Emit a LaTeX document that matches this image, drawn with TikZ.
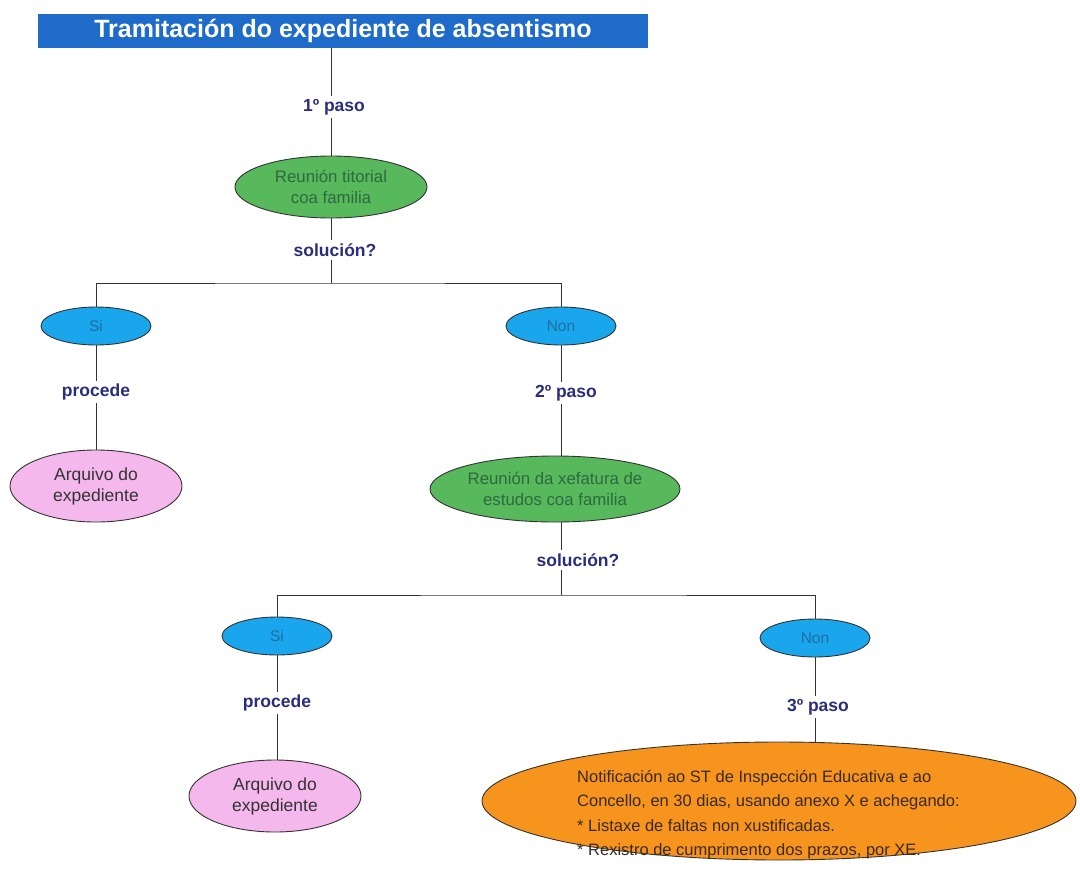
\documentclass[tikz,border=0pt]{standalone}
\usepackage{fontspec}
\setmainfont{Liberation Sans}
\usetikzlibrary{shapes.geometric}
\definecolor{titleblue}{HTML}{1F6BC9}
\definecolor{labelnavy}{HTML}{2A2D7C}
\definecolor{ellgreen}{HTML}{58B85C}
\definecolor{greentext}{HTML}{2D6A40}
\definecolor{ellcyan}{HTML}{1AA6EC}
\definecolor{cyantext}{HTML}{1E6FA3}
\definecolor{ellpink}{HTML}{F5B8EC}
\definecolor{pinktext}{HTML}{333333}
\definecolor{ellorange}{HTML}{F7941D}
\definecolor{orangetext}{HTML}{3A2A1F}
\definecolor{edgegray}{HTML}{333333}
\begin{document}
\begin{tikzpicture}[x=1pt,y=-1pt,
  conn/.style={draw=edgegray, line width=1pt},
  lbl/.style={font=\bfseries\fontsize{17.5}{20}\selectfont, text=labelnavy, inner sep=3pt},
  ell/.style={ellipse, draw=edgegray, line width=0.9pt, inner sep=0pt, align=center},
  greenell/.style={ell, fill=ellgreen, text=greentext, font=\fontsize{16.8}{21}\selectfont},
  cyanell/.style={ell, fill=ellcyan, text=cyantext, font=\fontsize{15.5}{18}\selectfont, minimum width=110, minimum height=38},
  pinkell/.style={ell, fill=ellpink, text=pinktext, font=\fontsize{17.5}{21}\selectfont, minimum width=172, minimum height=72},
  orangeell/.style={ell, fill=ellorange, minimum width=594, minimum height=118},
  otext/.style={font=\fontsize{16.5}{24.5}\selectfont, text=orangetext, align=left, inner sep=0pt}
]
\useasboundingbox (0,0) rectangle (1080,871);

\node[fill=titleblue, minimum width=610, minimum height=34, inner sep=0pt,
      text=white, font=\bfseries\fontsize{25}{28}\selectfont] (title) at (343,31) {Tramitación do expediente de absentismo};

\node[lbl] (l1) at (334,107) {1º paso};
\node[greenell, minimum width=192, minimum height=62] (g1) at (331,187) {Reunión titorial\\coa familia};
\node[lbl] (sol1) at (335,250) {solución?};
\coordinate (b1) at (331,283);

\node[cyanell] (si1) at (96,326) {Si};
\node[cyanell] (non1) at (561,326) {Non};

\node[lbl] (proc1) at (96,392) {procede};
\node[pinkell] (a1) at (96,486) {Arquivo do\\expediente};

\node[lbl] (l2) at (566,393) {2º paso};
\node[greenell, minimum width=250, minimum height=66] (g2) at (555,489) {Reunión da xefatura de\\estudos coa familia};
\node[lbl] (sol2) at (578,560) {solución?};
\coordinate (b2) at (561,595);

\node[cyanell] (si2) at (277,636) {Si};
\node[cyanell] (non2) at (815,638) {Non};

\node[lbl] (proc2) at (277,703) {procede};
\node[pinkell] (a2) at (275,796) {Arquivo do\\expediente};

\node[lbl] (l3) at (818,707) {3º paso};
\node[orangeell] (o) at (779,801) {};
\node[otext, anchor=north west] (ot) at (577,770) {Notificación ao ST de Inspección Educativa e ao\\Concello, en 30 dias, usando anexo X e achegando:\\* Listaxe de faltas non xustificadas.\\* Rexistro de cumprimento dos prazos, por XE.};

% connectors
\draw[conn] (title.south -| b1) -- (l1.north -| b1);
\draw[conn] (l1.south -| b1) -- (g1.north -| b1);
\draw[conn] (g1.south -| b1) -- (sol1.north -| b1);
\draw[conn] (sol1.south -| b1) -- (b1);
\draw[conn] (si1.north) |- (b1) -| (non1.north);

\draw[conn] (si1.south) -- (proc1.north -| si1);
\draw[conn] (proc1.south -| si1) -- (a1.north);

\draw[conn] (non1.south) -- (l2.north -| non1);
\draw[conn] (l2.south -| non1) -- (g2.north -| non1);
\draw[conn] (g2.south -| b2) -- (sol2.north -| b2);
\draw[conn] (sol2.south -| b2) -- (b2);
\draw[conn] (si2.north) |- (b2) -| (non2.north);

\draw[conn] (si2.south) -- (proc2.north -| si2);
\draw[conn] (proc2.south -| si2) -- (a2.north -| si2);

\draw[conn] (non2.south) -- (l3.north -| non2);
\draw[conn] (l3.south -| non2) -- (o.north -| non2);
\end{tikzpicture}
\end{document}
